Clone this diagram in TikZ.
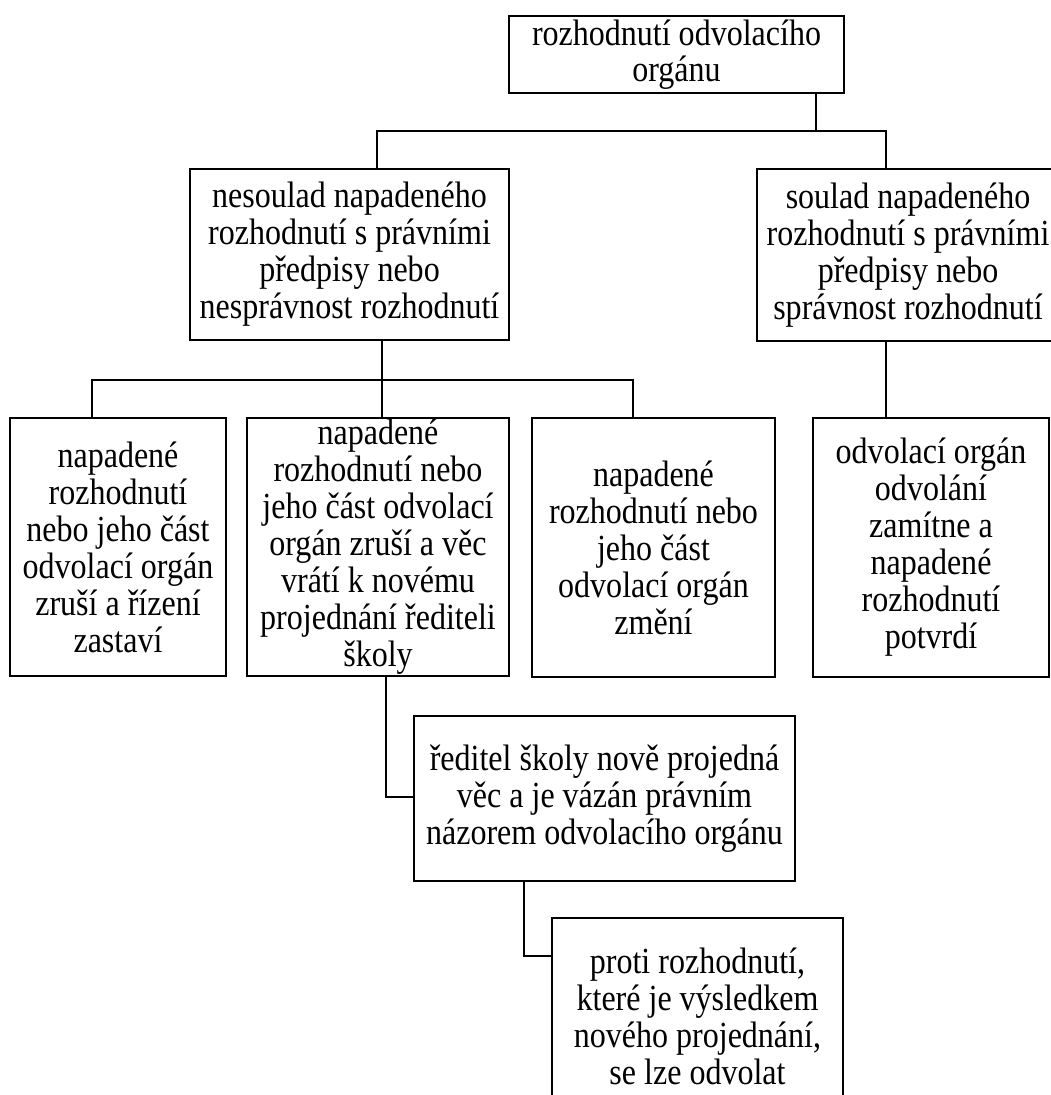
\documentclass[tikz,border=0pt]{standalone}
\usepackage{fontspec}
\setmainfont[FakeStretch=0.87]{Liberation Serif}
\begin{document}
\begin{tikzpicture}[x=1pt,y=-1pt,
  box/.style={draw,line width=2pt,inner sep=0pt,outer sep=0pt,align=center,
    font=\fontsize{36.8}{37}\selectfont},
  conn/.style={line width=2pt}]
\useasboundingbox[fill=white] (0,0) rectangle (1051,1095);

\node[box,minimum width=335pt,minimum height=77pt,font=\fontsize{36.8}{36}\selectfont] (top) at (676.5,54.5)
  {rozhodnutí odvolacího\\orgánu};
\node[box,minimum width=319pt,minimum height=171pt] (nesoulad) at (349.5,254.5)
  {nesoulad napadeného\\rozhodnutí s právními\\předpisy nebo\\nesprávnost rozhodnutí};
\node[box,minimum width=302pt,minimum height=172pt] (soulad) at (908,255)
  {soulad napadeného\\rozhodnutí s právními\\předpisy nebo\\správnost rozhodnutí};
\node[box,minimum width=216pt,minimum height=258pt] (box1) at (118,547)
  {napadené\\rozhodnutí\\nebo jeho část\\odvolací orgán\\zruší a řízení\\zastaví};
\node[box,minimum width=262pt,minimum height=258pt] (box2) at (378,547)
  {napadené\\rozhodnutí nebo\\jeho část odvolací\\orgán zruší a věc\\vrátí k novému\\projednání řediteli\\školy};
\node[box,minimum width=243pt,minimum height=259pt] (box3) at (653.5,547.5)
  {napadené\\rozhodnutí nebo\\jeho část\\odvolací orgán\\změní};
\node[box,minimum width=236pt,minimum height=259pt] (box4) at (931,547.5)
  {odvolací orgán\\odvolání\\zamítne a\\napadené\\rozhodnutí\\potvrdí};
\node[box,minimum width=381pt,minimum height=165pt] (reditel) at (604.5,798.5)
  {ředitel školy nově projedná\\věc a je vázán právním\\názorem odvolacího orgánu};
\node[box,minimum width=291pt,minimum height=196pt] (proti) at (697.5,1016)
  {proti rozhodnutí,\\které je výsledkem\\nového projednání,\\se lze odvolat};

\coordinate (j1) at (816,131);
\coordinate (busL) at (377,131);
\coordinate (busR) at (886,131);
\coordinate (bus2L) at (92,380);
\coordinate (bus2M) at (382,380);
\coordinate (bus2R) at (633,380);
\coordinate (e1) at (386,797);
\coordinate (e2) at (524,956);

\draw[conn] (top.south -| j1) -- (j1);
\draw[conn] (nesoulad.north -| busL) -- (busL) -- (busR) -- (soulad.north -| busR);
\draw[conn] (box1.north -| bus2L) -- (bus2L) -- (bus2R) -- (box3.north -| bus2R);
\draw[conn] (nesoulad.south -| bus2M) -- (box2.north -| bus2M);
\draw[conn] (soulad.south -| busR) -- (box4.north -| busR);
\draw[conn] (box2.south -| e1) -- (e1) -- (reditel.west |- e1);
\draw[conn] (reditel.south -| e2) -- (e2) -- (proti.west |- e2);
\end{tikzpicture}
\end{document}
